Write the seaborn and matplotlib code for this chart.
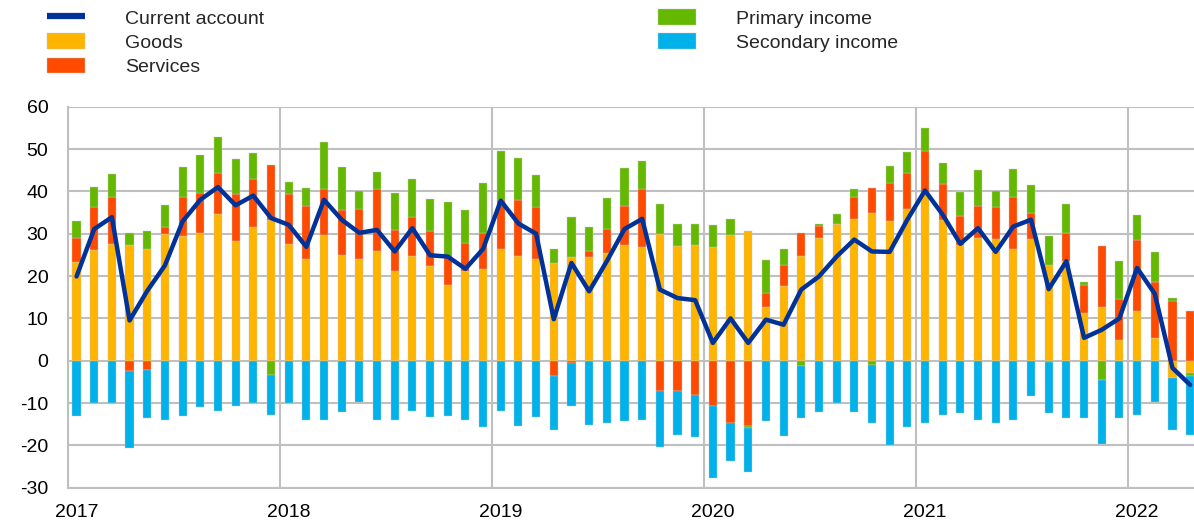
"""
Euro area current account and its components, monthly 2017-2022.
Stacked bars for goods / services / primary / secondary income,
line for the current account balance.
"""

import numpy as np
import pandas as pd
import seaborn as sns
import matplotlib
matplotlib.use("Agg")
import matplotlib.pyplot as plt
from matplotlib.patches import Patch
from matplotlib.lines import Line2D

# monthly, Jan 2017 .. Apr 2022
goods = [23.2, 26.2, 27.6, 27.4, 26.5, 30.0, 29.4, 30.2, 34.7, 28.2, 31.5, 33.3,
         27.6, 24.1, 29.7, 25.0, 24.1, 25.9, 21.3, 24.7, 22.4, 18.0, 21.3, 21.7,
         26.5, 24.7, 24.1, 23.0, 24.4, 24.4, 25.4, 27.4, 26.8, 30.0, 27.0, 27.4,
         26.8, 29.8, 30.6, 12.7, 17.6, 24.7, 29.1, 32.4, 33.5, 34.9, 32.9, 35.9,
         39.6, 33.3, 27.4, 29.1, 28.8, 26.5, 28.8, 22.7, 23.5, 11.3, 12.7, 4.8,
         11.8, 5.3, -4.2, -2.8]
services = [5.9, 10.2, 11.1, -2.5, -2.3, 1.5, 9.3, 9.4, 9.6, 11.2, 11.4, 13.0,
            11.8, 12.4, 10.9, 10.6, 11.7, 14.7, 9.6, 9.2, 8.2, 6.6, 6.6, 8.5,
            11.5, 13.2, 12.3, -3.7, -0.6, 1.4, 5.7, 9.1, 13.8, -7.2, -7.2, -8.0,
            -10.6, -14.7, -15.5, 3.2, 5.1, 5.5, 2.6, 0.0, 5.2, 5.9, 9.1, 8.4,
            10.0, 8.4, 6.7, 7.4, 7.4, 12.1, 6.2, -0.4, 6.7, 6.7, 14.3, 9.8,
            16.8, 13.4, 14.2, 11.8]
primary = [4.0, 4.7, 5.3, 2.8, 4.1, 5.2, 7.0, 9.1, 8.5, 8.2, 6.2, -3.4,
           2.9, 4.3, 11.1, 10.1, 4.4, 4.0, 8.7, 9.0, 7.6, 13.0, 7.7, 11.8,
           11.6, 10.0, 7.4, 3.5, 9.5, 5.7, 7.3, 9.0, 6.6, 7.0, 5.3, 4.9,
           5.2, 3.7, -0.3, 8.0, 3.8, -1.2, 0.6, 2.2, 1.9, -1.0, 4.1, 5.1,
           5.4, 5.0, 5.8, 8.5, 4.0, 6.7, 6.5, 6.8, 6.8, 0.5, -4.5, 8.9,
           5.8, 6.9, 0.6, -0.9]
secondary = [-13.0, -10.1, -10.1, -18.1, -11.3, -13.9, -13.0, -10.9, -11.9, -10.7, -10.1, -9.4,
             -10.1, -13.9, -13.9, -12.1, -9.8, -13.9, -13.9, -11.8, -13.3, -13.0, -13.9, -15.7,
             -11.8, -15.4, -13.3, -12.6, -10.0, -15.1, -14.7, -14.2, -13.9, -13.1, -10.3, -10.0,
             -17.0, -8.9, -10.5, -14.3, -17.7, -12.3, -12.2, -10.1, -12.2, -13.6, -20.0, -15.7,
             -14.8, -12.8, -12.4, -13.9, -14.8, -13.9, -8.3, -12.0, -13.6, -13.6, -15.2, -13.6,
             -12.8, -9.8, -12.1, -13.8]
current_account = [19.9, 31.1, 33.9, 9.5, 16.5, 22.5, 32.9, 38.0, 41.0, 36.7, 39.0, 33.7,
                   32.1, 26.9, 38.0, 33.3, 30.2, 30.9, 25.8, 31.3, 24.9, 24.6, 21.7, 26.4,
                   37.8, 32.4, 30.0, 9.8, 23.1, 16.4, 23.5, 31.1, 33.5, 16.8, 14.8, 14.3,
                   4.2, 10.0, 4.2, 9.7, 8.5, 16.8, 19.9, 24.6, 28.6, 25.8, 25.7, 33.3,
                   40.2, 34.5, 27.6, 31.3, 25.7, 31.7, 33.3, 16.9, 23.5, 5.4, 7.3, 10.0,
                   21.9, 15.8, -1.7, -5.7]
years = ["2017", "2018", "2019", "2020", "2021", "2022"]

COLORS = {
    "Goods": "#FFB400",
    "Services": "#FF4B00",
    "Primary income": "#65B800",
    "Secondary income": "#00B1EA",
}
LINE_COLOR = "#003299"
GRID = "#BFBFBF"
EDGE = "#C8C8C8"

df = pd.DataFrame({
    "Goods": goods,
    "Services": services,
    "Primary income": primary,
    "Secondary income": secondary,
    "Current account": current_account,
})
df["x"] = np.arange(len(df)) + 0.5  # bar centred inside its month

sns.set_theme(style="white")
plt.rcParams["font.family"] = ["Liberation Sans", "DejaVu Sans"]
plt.rcParams["axes.unicode_minus"] = False  # plain hyphen like the original

fig = plt.figure(figsize=(11.94, 5.25), dpi=100)
ax = fig.add_axes([0.0567, 0.0710, 0.9433, 0.7258])

# stacked bars, positives go up from 0 and negatives go down from 0
pos_base = np.zeros(len(df))
neg_base = np.zeros(len(df))
for comp, color in COLORS.items():
    vals = df[comp].to_numpy()
    bottom = np.where(vals >= 0, pos_base, neg_base)
    ax.bar(df["x"], vals, bottom=bottom, width=0.46, color=color,
           edgecolor=EDGE, linewidth=0.3, zorder=3)
    pos_base += np.clip(vals, 0, None)
    neg_base += np.clip(vals, None, 0)

sns.lineplot(data=df, x="x", y="Current account", color=LINE_COLOR,
             linewidth=3.2, ax=ax, zorder=4, legend=False)

ax.set_xlim(0, 63.72)
ax.set_ylim(-30, 60)
ax.set_yticks(range(-30, 61, 10))
ax.set_xticks(np.arange(len(years)) * 12 + 0.5)
ax.set_xticklabels(years)
ax.set_xticks(np.arange(len(years)) * 12, minor=True)
ax.set_xlabel("")
ax.set_ylabel("")

ax.grid(axis="y", color=GRID, linewidth=1.5, zorder=0)
ax.grid(axis="x", which="minor", color=GRID, linewidth=1.5, zorder=0)
ax.grid(axis="x", which="major", visible=False)
for side in ["top", "right"]:
    ax.spines[side].set_visible(False)
for side in ["left", "bottom"]:
    ax.spines[side].set_color(GRID)
    ax.spines[side].set_linewidth(1.5)

ax.tick_params(axis="y", length=0, pad=14, labelsize=14, labelcolor="#000000")
ax.tick_params(axis="x", which="both", length=0, pad=12, labelsize=14, labelcolor="#000000")

# legend in two blocks, like the original layout
leg_kw = dict(frameon=False, fontsize=14, handlelength=1.95, handleheight=0.88,
              handletextpad=2.05, labelspacing=0.29, borderpad=0, borderaxespad=0,
              loc="upper left")
h1 = [Line2D([0], [0], color=LINE_COLOR, linewidth=4.5, solid_capstyle="butt"),
      Patch(facecolor=COLORS["Goods"], edgecolor=EDGE, linewidth=0.3),
      Patch(facecolor=COLORS["Services"], edgecolor=EDGE, linewidth=0.3)]
h2 = [Patch(facecolor=COLORS["Primary income"], edgecolor=EDGE, linewidth=0.3),
      Patch(facecolor=COLORS["Secondary income"], edgecolor=EDGE, linewidth=0.3)]
fig.legend(h1, ["Current account", "Goods", "Services"],
           bbox_to_anchor=(47 / 1194, 1 - 9 / 525), **leg_kw)
fig.legend(h2, ["Primary income", "Secondary income"],
           bbox_to_anchor=(658 / 1194, 1 - 9 / 525), **leg_kw)

fig.savefig("out.png", dpi=100)
plt.close(fig)
